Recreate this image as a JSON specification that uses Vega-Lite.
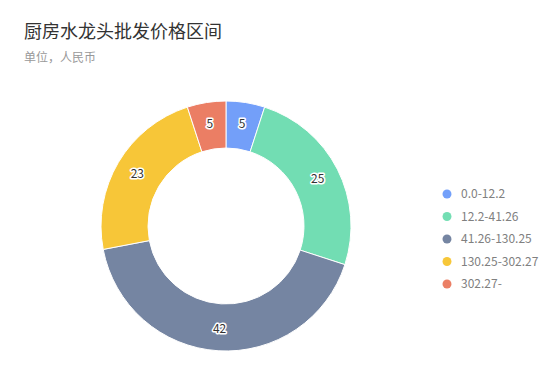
{
  "$schema": "https://vega.github.io/schema/vega-lite/v6.json",
  "autosize": {"type": "none"},
  "padding": {"left": 0, "top": 101, "right": 108, "bottom": 25},
  "width": 452,
  "height": 250,
  "background": "white",
  "title": {
    "text": "厨房水龙头批发价格区间",
    "subtitle": "单位，人民币",
    "anchor": "start",
    "frame": "group",
    "dx": 24,
    "offset": 35,
    "font": "Noto Sans CJK SC",
    "fontSize": 18,
    "fontWeight": "normal",
    "color": "#333333",
    "subtitleFont": "Noto Sans CJK SC",
    "subtitleFontSize": 12,
    "subtitleColor": "#999999",
    "subtitlePadding": 11
  },
  "data": {
    "values": [
      {"range": "0.0-12.2", "value": 5, "idx": 1},
      {"range": "12.2-41.26", "value": 25, "idx": 2},
      {"range": "41.26-130.25", "value": 42, "idx": 3},
      {"range": "130.25-302.27", "value": 23, "idx": 4},
      {"range": "302.27-", "value": 5, "idx": 5}
    ]
  },
  "encoding": {
    "theta": {"field": "value", "type": "quantitative", "stack": true},
    "order": {"field": "idx", "type": "quantitative"},
    "color": {
      "field": "range",
      "type": "nominal",
      "scale": {
        "domain": ["0.0-12.2", "12.2-41.26", "41.26-130.25", "130.25-302.27", "302.27-"],
        "range": ["#5B8FF9", "#5AD8A6", "#5D7092", "#F6BD16", "#E8684A"]
      },
      "legend": {
        "title": null,
        "orient": "none",
        "legendX": 441,
        "legendY": 87,
        "symbolType": "circle",
        "symbolSize": 80,
        "symbolOpacity": 0.85,
        "symbolStrokeWidth": 0,
        "labelFont": "Noto Sans CJK SC",
        "labelFontSize": 12,
        "labelColor": "#808080",
        "rowPadding": 10.5,
        "labelOffset": 8,
        "labelLimit": 200
      }
    }
  },
  "layer": [
    {
      "mark": {"type": "arc", "outerRadius": 125, "innerRadius": 78, "opacity": 0.85, "stroke": "white", "strokeWidth": 1}
    },
    {
      "mark": {"type": "text", "radius": 103, "font": "Noto Sans CJK SC", "fontSize": 12, "stroke": "white", "strokeWidth": 3, "fill": "white", "strokeJoin": "round"},
      "encoding": {"text": {"field": "value", "type": "quantitative"}, "color": {"value": "white"}}
    },
    {
      "mark": {"type": "text", "radius": 103, "font": "Noto Sans CJK SC", "fontSize": 12, "fill": "#333333"},
      "encoding": {"text": {"field": "value", "type": "quantitative"}, "color": {"value": "#333333"}}
    }
  ]
}
